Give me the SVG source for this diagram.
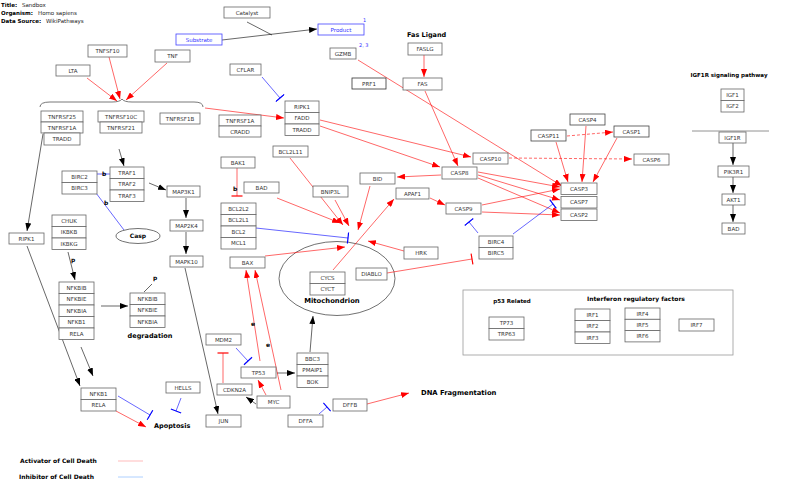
<svg xmlns="http://www.w3.org/2000/svg" width="800" height="490" viewBox="0 0 800 490">
<style>
.box{fill:#fff;stroke:#666;stroke-width:0.8}
.bl{fill:#fff;stroke:#44f;stroke-width:0.8}
.lbl{font-family:"DejaVu Sans",sans-serif;font-size:5.5px;fill:#333;text-anchor:middle;dominant-baseline:central}
.lblb{font-family:"DejaVu Sans",sans-serif;font-size:5.5px;fill:#33f;text-anchor:middle;dominant-baseline:central}
.h{font-family:"DejaVu Sans",sans-serif;font-size:5.5px;fill:#222}
.hb{font-family:"DejaVu Sans",sans-serif;font-size:5.5px;font-weight:bold;fill:#000}
.t{font-family:"DejaVu Sans",sans-serif;font-weight:bold;fill:#000}
.r{stroke:#f00;stroke-width:0.6;fill:none}
.k{stroke:#000;stroke-width:0.6;fill:none}
.b{stroke:#00f;stroke-width:0.6;fill:none}
.d{stroke-dasharray:3,2}
.ar{marker-end:url(#ar)}
.ak{marker-end:url(#ak)}
.tb{marker-end:url(#tb)}
.tr{marker-end:url(#tr)}
</style>
<defs>
<marker id="ar" markerUnits="userSpaceOnUse" viewBox="0 0 8 6" refX="8" refY="3" markerWidth="8" markerHeight="6" orient="auto"><path d="M0,0 L8,3 L0,6 z" fill="#f00"/></marker>
<marker id="ak" markerUnits="userSpaceOnUse" viewBox="0 0 8 6" refX="8" refY="3" markerWidth="8" markerHeight="6" orient="auto"><path d="M0,0 L8,3 L0,6 z" fill="#000"/></marker>
<marker id="tb" markerUnits="userSpaceOnUse" viewBox="-1 -6 2 12" refX="0" refY="0" markerWidth="2" markerHeight="12" orient="auto"><path d="M0,-5.5 L0,5.5" stroke="#00f" stroke-width="1.2"/></marker>
<marker id="tr" markerUnits="userSpaceOnUse" viewBox="-1 -6 2 12" refX="0" refY="0" markerWidth="2" markerHeight="12" orient="auto"><path d="M0,-5.5 L0,5.5" stroke="#f00" stroke-width="1.2"/></marker>
</defs>

<g id="header">
<text x="1" y="7" class="hb">Title:</text><text x="22" y="7" class="h">Sandbox</text>
<text x="1" y="15" class="hb">Organism:</text><text x="38" y="15" class="h">Homo sapiens</text>
<text x="1" y="23" class="hb">Data Source:</text><text x="46" y="23" class="h">WikiPathways</text>
</g>

<g id="shapes">
<path d="M40,107 Q40,102 50,102 L112,102 Q120,102 122,99 Q124,102 132,102 L194,102 Q203,102 203,107" fill="none" stroke="#555" stroke-width="0.8"/>
<ellipse cx="337" cy="278.5" rx="58" ry="37" fill="none" stroke="#333" stroke-width="0.7"/>
<line x1="692" y1="131" x2="769" y2="131" stroke="#777" stroke-width="0.8"/>
<rect x="463" y="290" width="270" height="65" fill="none" stroke="#999" stroke-width="0.8"/>
<line x1="118" y1="461" x2="143" y2="461" stroke="#ffaaaa" stroke-width="0.8"/>
<line x1="118" y1="477" x2="143" y2="477" stroke="#99c4ff" stroke-width="0.8"/>
</g>

<g id="connectors">
<path class="k ak" d="M222,40 L317,29"/>
<path class="k" d="M247,22 L272,35"/>
<path class="r ar" d="M87,78 L117,101"/>
<path class="r ar" d="M109,57 L120,99"/>
<path class="r ar" d="M167,63 L126,100"/>
<path class="k ak" d="M119,149 L124,166"/>
<path class="r ar" d="M205,108 L284,118"/>
<path class="b tb" d="M262,77 L280,98"/>
<path class="k ak" d="M43,134 L27,231"/>
<path class="b" d="M97,174 L110,174"/>
<path class="b" d="M96,193 L124,230"/>
<path class="k ak" d="M149,183 L166,190"/>
<path class="k ak" d="M186,198 L186,218"/>
<path class="k ak" d="M186,232 L186,254"/>
<path class="k ak" d="M185,268 L218,414"/>
<path class="k ak" d="M68,252 L75,280"/>
<path class="k ak" d="M101,306 L128,306"/>
<path class="k" d="M144,292 L152,284"/>
<path class="k ak" d="M27,246 L80,386"/>
<path class="k ak" d="M81,347 L93,376"/>
<path class="b tb" d="M118,396 L150,415"/>
<path class="r ar" d="M116,411 L146,427"/>
<path class="b tb" d="M181,398 L176,411"/>
<path class="r tr" d="M237,168 L237,196"/>
<path class="r ar" d="M277,198 L340,223"/>
<path class="r ar" d="M290,158 L343,225"/>
<path class="r ar" d="M335,200 L349,226"/>
<path class="r ar" d="M370,186 L358,230"/>
<path class="b tb" d="M256,228 L348,238"/>
<path class="r ar" d="M265,256 L345,247"/>
<path class="r ar" d="M404,251 L368,241"/>
<path class="r ar" d="M333,270 L394,199"/>
<path class="r tr" d="M387,273 L472,259"/>
<path class="r ar" d="M430,198 L445,205"/>
<path class="r ar" d="M441,175 L397,177"/>
<path class="r ar" d="M478,172 L560,187"/>
<path class="r ar" d="M478,175 L560,200"/>
<path class="r ar" d="M478,178 L560,213"/>
<path class="r ar" d="M482,205 L560,189"/>
<path class="r ar" d="M482,212 L560,215"/>
<path class="b tb" d="M478,233 L469,222"/>
<path class="b tb" d="M513,234 L553,204"/>
<path class="r ar" d="M424,55 L424,77"/>
<path class="r ar" d="M425,91 L458,166"/>
<path class="r ar" d="M320,120 L471,157"/>
<path class="r ar" d="M320,126 L440,167"/>
<path class="r ar" d="M358,60 L562,186"/>
<path class="r d ar" d="M509,158 L632,159"/>
<path class="r d ar" d="M567,136 L613,132"/>
<path class="r ar" d="M556,142 L568,182"/>
<path class="r ar" d="M586,126 L582,182"/>
<path class="r ar" d="M617,138 L593,182"/>
<path class="k ak" d="M733,143 L733,165"/>
<path class="k ak" d="M733,177 L733,193"/>
<path class="k ak" d="M733,205 L733,222"/>
<path class="b tb" d="M236,348 L248,361"/>
<path class="r tr" d="M223,383 L223,353"/>
<path class="r ar" d="M266,395 L258,380"/>
<path class="k ak" d="M256,404 L246,397"/>
<path class="k ak" d="M277,373 L295,373"/>
<path class="r ar" d="M260,361 L246,270"/>
<path class="r ar" d="M281,390 L255,270"/>
<path class="k ak" d="M310,352 L313,316"/>
<path class="b tb" d="M319,414 L327,407"/>
<path class="r ar" d="M367,404 L409,393"/>
</g>

<g id="n-catalyst"><rect class="box" x="224" y="7" width="46" height="11"/><text class="lbl" x="247" y="12.5">Catalyst</text></g>
<g id="n-substrate"><rect class="bl" x="176" y="34" width="46" height="11"/><text class="lblb" x="199" y="39.5">Substrate</text></g>
<g id="n-product"><rect class="bl" x="318" y="24" width="46" height="11"/><text class="lblb" x="341" y="29.5">Product</text></g>
<g id="n-gzmb"><rect class="box" x="330" y="48" width="26" height="11"/><text class="lbl" x="343" y="53.5">GZMB</text></g>
<g id="n-prf1"><rect class="box" x="352" y="78" width="34" height="11" style="stroke:#333"/><text class="lbl" x="369" y="83.5">PRF1</text></g>
<g id="n-cflar"><rect class="box" x="230" y="64" width="31" height="11"/><text class="lbl" x="245.5" y="69.5">CFLAR</text></g>
<g id="n-ripk1-fadd-tradd">
<rect class="box" x="285" y="101" width="34" height="11.5"/><text class="lbl" x="302" y="106.8">RIPK1</text>
<rect class="box" x="285" y="112.5" width="34" height="11.5"/><text class="lbl" x="302" y="118.3">FADD</text>
<rect class="box" x="285" y="124" width="34" height="11.5"/><text class="lbl" x="302" y="129.8">TRADD</text>
</g>
<g id="n-tnfrsf1a-cradd">
<rect class="box" x="219" y="115" width="42" height="11"/><text class="lbl" x="240" y="120.5">TNFRSF1A</text>
<rect class="box" x="219" y="126" width="42" height="11"/><text class="lbl" x="240" y="131.5">CRADD</text>
</g>
<g id="n-bcl2l11"><rect class="box" x="273" y="146" width="35" height="11"/><text class="lbl" x="290.5" y="151.5">BCL2L11</text></g>
<g id="n-bak1"><rect class="box" x="221" y="157" width="34" height="11"/><text class="lbl" x="238" y="162.5">BAK1</text></g>
<g id="n-bad"><rect class="box" x="244" y="182" width="35" height="11"/><text class="lbl" x="261.5" y="187.5">BAD</text></g>
<g id="n-bcl2-group">
<rect class="box" x="221" y="203" width="35" height="11.5"/><text class="lbl" x="238.5" y="208.8">BCL2L2</text>
<rect class="box" x="221" y="214.5" width="35" height="11.5"/><text class="lbl" x="238.5" y="220.3">BCL2L1</text>
<rect class="box" x="221" y="226" width="35" height="11.5"/><text class="lbl" x="238.5" y="231.8">BCL2</text>
<rect class="box" x="221" y="237.5" width="35" height="11.5"/><text class="lbl" x="238.5" y="243.3">MCL1</text>
</g>
<g id="n-bax"><rect class="box" x="230" y="257" width="35" height="11"/><text class="lbl" x="247.5" y="262.5">BAX</text></g>
<g id="n-bnip3l"><rect class="box" x="313" y="186" width="35" height="11"/><text class="lbl" x="330.5" y="191.5">BNIP3L</text></g>
<g id="n-bid"><rect class="box" x="360" y="173" width="35" height="11"/><text class="lbl" x="377.5" y="178.5">BID</text></g>
<g id="n-cycs-cyct">
<rect class="box" x="310" y="272" width="35" height="11.5"/><text class="lbl" x="327.5" y="277.8">CYCS</text>
<rect class="box" x="310" y="283.5" width="35" height="11.5"/><text class="lbl" x="327.5" y="289.3">CYCT</text>
</g>
<g id="n-mito-label"><text class="t" x="332" y="303" font-size="6.8" text-anchor="middle">Mitochondrion</text></g>
<g id="n-diablo"><rect class="box" x="356" y="268" width="31" height="12"/><text class="lbl" x="371.5" y="274">DIABLO</text></g>
<g id="n-apaf1"><rect class="box" x="396" y="188" width="33" height="11"/><text class="lbl" x="412.5" y="193.5">APAF1</text></g>
<g id="n-hrk"><rect class="box" x="404" y="247" width="34" height="12"/><text class="lbl" x="421" y="253">HRK</text></g>
<g id="n-casp8"><rect class="box" x="442" y="167" width="35" height="12"/><text class="lbl" x="459.5" y="173">CASP8</text></g>
<g id="n-casp9"><rect class="box" x="446" y="203" width="35" height="11"/><text class="lbl" x="463.5" y="208.5">CASP9</text></g>
<g id="n-birc4-birc5">
<rect class="box" x="479" y="236" width="34" height="11.5"/><text class="lbl" x="496" y="241.8">BIRC4</text>
<rect class="box" x="479" y="247.5" width="34" height="11.5"/><text class="lbl" x="496" y="253.3">BIRC5</text>
</g>
<g id="n-casp3"><rect class="box" x="561" y="183" width="36" height="11.5"/><text class="lbl" x="579" y="188.8">CASP3</text></g>
<g id="n-casp7"><rect class="box" x="561" y="196.5" width="36" height="11.5"/><text class="lbl" x="579" y="202.3">CASP7</text></g>
<g id="n-casp2"><rect class="box" x="561" y="209" width="36" height="11.5"/><text class="lbl" x="579" y="214.8">CASP2</text></g>
<g id="n-casp10"><rect class="box" x="473" y="153" width="35" height="11"/><text class="lbl" x="490.5" y="158.5">CASP10</text></g>
<g id="n-casp11"><rect class="box" x="531" y="130" width="35" height="11" style="stroke:#444"/><text class="lbl" x="548.5" y="135.5">CASP11</text></g>
<g id="n-casp4"><rect class="box" x="570" y="114" width="35" height="11" style="stroke:#444"/><text class="lbl" x="587.5" y="119.5">CASP4</text></g>
<g id="n-casp1"><rect class="box" x="614" y="126" width="35" height="11" style="stroke:#444"/><text class="lbl" x="631.5" y="131.5">CASP1</text></g>
<g id="n-casp6"><rect class="box" x="634" y="154" width="35" height="11"/><text class="lbl" x="651.5" y="159.5">CASP6</text></g>
<g id="n-faslabel"><text class="t" x="407" y="36.5" font-size="6.5">Fas Ligand</text></g>
<g id="n-faslg"><rect class="box" x="408" y="43" width="34" height="12"/><text class="lbl" x="425" y="49">FASLG</text></g>
<g id="n-fas"><rect class="box" x="403" y="78" width="39" height="12"/><text class="lbl" x="422.5" y="84">FAS</text></g>
<g id="n-igf1r-label"><text class="t" x="729" y="77" font-size="5.5" text-anchor="middle">IGF1R signaling pathway</text></g>
<g id="n-igf1-igf2">
<rect class="box" x="721" y="89" width="23" height="11.5"/><text class="lbl" x="732.5" y="94.8">IGF1</text>
<rect class="box" x="721" y="100.5" width="23" height="11.5"/><text class="lbl" x="732.5" y="106.3">IGF2</text>
</g>
<g id="n-igf1r"><rect class="box" x="719" y="132" width="27" height="11"/><text class="lbl" x="732.5" y="137.5">IGF1R</text></g>
<g id="n-pik3r1"><rect class="box" x="718" y="166" width="31" height="11"/><text class="lbl" x="733.5" y="171.5">PIK3R1</text></g>
<g id="n-akt1"><rect class="box" x="722" y="194" width="23" height="11"/><text class="lbl" x="733.5" y="199.5">AKT1</text></g>
<g id="n-bad2"><rect class="box" x="722" y="223" width="23" height="11"/><text class="lbl" x="733.5" y="228.5">BAD</text></g>
<g id="n-tnfsf10"><rect class="box" x="88" y="45" width="39" height="12"/><text class="lbl" x="107.5" y="51">TNFSF10</text></g>
<g id="n-lta"><rect class="box" x="56" y="65" width="34" height="11"/><text class="lbl" x="73" y="70.5">LTA</text></g>
<g id="n-tnf"><rect class="box" x="155" y="50" width="35" height="12"/><text class="lbl" x="172.5" y="56">TNF</text></g>
<g id="n-tnfrsf25-group">
<rect class="box" x="41" y="111" width="42" height="11"/><text class="lbl" x="62" y="116.5">TNFRSF25</text>
<rect class="box" x="41" y="122" width="42" height="11"/><text class="lbl" x="62" y="127.5">TNFRSF1A</text>
<rect class="box" x="44" y="133" width="36" height="12"/><text class="lbl" x="62" y="139">TRADD</text>
</g>
<g id="n-tnfrsf10c-group">
<rect class="box" x="98" y="111" width="46" height="11"/><text class="lbl" x="121" y="116.5">TNFRSF10C</text>
<rect class="box" x="100" y="122" width="42" height="11"/><text class="lbl" x="121" y="127.5">TNFRSF21</text>
</g>
<g id="n-tnfrsf1b"><rect class="box" x="160" y="113" width="40" height="11"/><text class="lbl" x="180" y="118.5">TNFRSF1B</text></g>
<g id="n-ripk1-left"><rect class="box" x="9" y="233" width="35" height="11"/><text class="lbl" x="26.5" y="238.5">RIPK1</text></g>
<g id="n-traf">
<rect class="box" x="110" y="167" width="34" height="11.5"/><text class="lbl" x="127" y="172.8">TRAF1</text>
<rect class="box" x="110" y="178.5" width="34" height="11.5"/><text class="lbl" x="127" y="184.3">TRAF2</text>
<rect class="box" x="110" y="190" width="34" height="11.5"/><text class="lbl" x="127" y="195.8">TRAF3</text>
</g>
<g id="n-birc2-birc3">
<rect class="box" x="62" y="171" width="35" height="11.5"/><text class="lbl" x="79.5" y="176.8">BIRC2</text>
<rect class="box" x="62" y="182.5" width="35" height="11.5"/><text class="lbl" x="79.5" y="188.3">BIRC3</text>
</g>
<g id="n-casp-ellipse"><ellipse cx="138" cy="236" rx="22" ry="7.5" fill="#fff" stroke="#333" stroke-width="0.7"/><text class="t" x="138" y="238.2" font-size="6" text-anchor="middle">Casp</text></g>
<g id="n-map3k1"><rect class="box" x="167" y="186" width="33" height="11"/><text class="lbl" x="183.5" y="191.5">MAP3K1</text></g>
<g id="n-map2k4"><rect class="box" x="170" y="220" width="33" height="11"/><text class="lbl" x="186.5" y="225.5">MAP2K4</text></g>
<g id="n-mapk10"><rect class="box" x="170" y="256" width="33" height="11"/><text class="lbl" x="186.5" y="261.5">MAPK10</text></g>
<g id="n-ikk">
<rect class="box" x="52" y="215" width="34" height="11.5"/><text class="lbl" x="69" y="220.8">CHUK</text>
<rect class="box" x="52" y="226.5" width="34" height="11.5"/><text class="lbl" x="69" y="232.3">IKBKB</text>
<rect class="box" x="52" y="238" width="34" height="11.5"/><text class="lbl" x="69" y="243.8">IKBKG</text>
</g>
<g id="n-nfkb-left">
<rect class="box" x="59" y="282" width="35" height="11.5"/><text class="lbl" x="76.5" y="287.8">NFKBIB</text>
<rect class="box" x="59" y="293.5" width="35" height="11.5"/><text class="lbl" x="76.5" y="299.3">NFKBIE</text>
<rect class="box" x="59" y="305" width="35" height="11.5"/><text class="lbl" x="76.5" y="310.8">NFKBIA</text>
<rect class="box" x="59" y="316.5" width="35" height="11.5"/><text class="lbl" x="76.5" y="322.3">NFKB1</text>
<rect class="box" x="59" y="328" width="35" height="11.5"/><text class="lbl" x="76.5" y="333.8">RELA</text>
</g>
<g id="n-nfkbi-right">
<rect class="box" x="130" y="293" width="35" height="11.5"/><text class="lbl" x="147.5" y="298.8">NFKBIB</text>
<rect class="box" x="130" y="304.5" width="35" height="11.5"/><text class="lbl" x="147.5" y="310.3">NFKBIE</text>
<rect class="box" x="130" y="316" width="35" height="11.5"/><text class="lbl" x="147.5" y="321.8">NFKBIA</text>
</g>
<g id="n-nfkb1-rela">
<rect class="box" x="81" y="388" width="35" height="11.5"/><text class="lbl" x="98.5" y="393.8">NFKB1</text>
<rect class="box" x="81" y="399.5" width="35" height="11.5"/><text class="lbl" x="98.5" y="405.3">RELA</text>
</g>
<g id="n-hells"><rect class="box" x="166" y="382" width="34" height="11"/><text class="lbl" x="183" y="387.5">HELLS</text></g>
<g id="n-mdm2"><rect class="box" x="206" y="334" width="35" height="11"/><text class="lbl" x="223.5" y="339.5">MDM2</text></g>
<g id="n-tp53"><rect class="box" x="241" y="367" width="35" height="11"/><text class="lbl" x="258.5" y="372.5">TP53</text></g>
<g id="n-cdkn2a"><rect class="box" x="217" y="384" width="35" height="11"/><text class="lbl" x="234.5" y="389.5">CDKN2A</text></g>
<g id="n-myc"><rect class="box" x="257" y="396" width="33" height="12"/><text class="lbl" x="273.5" y="402">MYC</text></g>
<g id="n-bbc3-group">
<rect class="box" x="297" y="353" width="31" height="11.5"/><text class="lbl" x="312.5" y="358.8">BBC3</text>
<rect class="box" x="297" y="364.5" width="31" height="11.5"/><text class="lbl" x="312.5" y="370.3">PMAIP1</text>
<rect class="box" x="297" y="376" width="31" height="11.5"/><text class="lbl" x="312.5" y="381.8">BOK</text>
</g>
<g id="n-jun"><rect class="box" x="206" y="415" width="35" height="12"/><text class="lbl" x="223.5" y="421">JUN</text></g>
<g id="n-dffa"><rect class="box" x="288" y="415" width="35" height="12"/><text class="lbl" x="305.5" y="421">DFFA</text></g>
<g id="n-dffb"><rect class="box" x="333" y="399" width="34" height="12"/><text class="lbl" x="350" y="405">DFFB</text></g>
<g id="n-p53-related">
<text class="t" x="512" y="303" font-size="5.5" text-anchor="middle">p53 Related</text>
<rect class="box" x="489" y="317" width="35" height="11.5"/><text class="lbl" x="506.5" y="322.8">TP73</text>
<rect class="box" x="489" y="328.5" width="35" height="11.5"/><text class="lbl" x="506.5" y="334.3">TRP63</text>
</g>
<g id="n-irf">
<text class="t" x="587" y="301" font-size="6">Interferon regulatory factors</text>
<rect class="box" x="575" y="309" width="35" height="11.5"/><text class="lbl" x="592.5" y="314.8">IRF1</text>
<rect class="box" x="575" y="320.5" width="35" height="11.5"/><text class="lbl" x="592.5" y="326.3">IRF2</text>
<rect class="box" x="575" y="332" width="35" height="11.5"/><text class="lbl" x="592.5" y="337.8">IRF3</text>
<rect class="box" x="625" y="308" width="35" height="11.3"/><text class="lbl" x="642.5" y="313.7">IRF4</text>
<rect class="box" x="625" y="319.3" width="35" height="11.3"/><text class="lbl" x="642.5" y="325">IRF5</text>
<rect class="box" x="625" y="330.6" width="35" height="11.3"/><text class="lbl" x="642.5" y="336.3">IRF6</text>
<rect class="box" x="679" y="319" width="35" height="12"/><text class="lbl" x="696.5" y="325">IRF7</text>
</g>

<g id="labels">
<text x="363" y="22" font-family="DejaVu Sans, sans-serif" font-size="5" fill="#33f">1</text>
<text x="359" y="46.5" font-family="DejaVu Sans, sans-serif" font-size="5" fill="#33f">2, 3</text>
<text class="t" x="102" y="176" font-size="6">b</text>
<text class="t" x="104" y="205" font-size="6">b</text>
<text class="t" x="233" y="191" font-size="6">b</text>
<text class="t" x="71" y="262" font-size="6">p</text>
<text class="t" x="153" y="280" font-size="6">p</text>
<text class="t" x="251" y="326" font-size="6">e</text>
<text class="t" x="266" y="347" font-size="6">e</text>
<text class="t" x="150" y="338" font-size="6.5" text-anchor="middle">degradation</text>
<text class="t" x="154" y="428" font-size="6.5">Apoptosis</text>
<text class="t" x="421" y="395" font-size="6.8">DNA Fragmentation</text>
<text class="t" x="20" y="463" font-size="6">Activator of Cell Death</text>
<text class="t" x="19" y="479" font-size="6">Inhibitor of Cell Death</text>
</g>
</svg>
